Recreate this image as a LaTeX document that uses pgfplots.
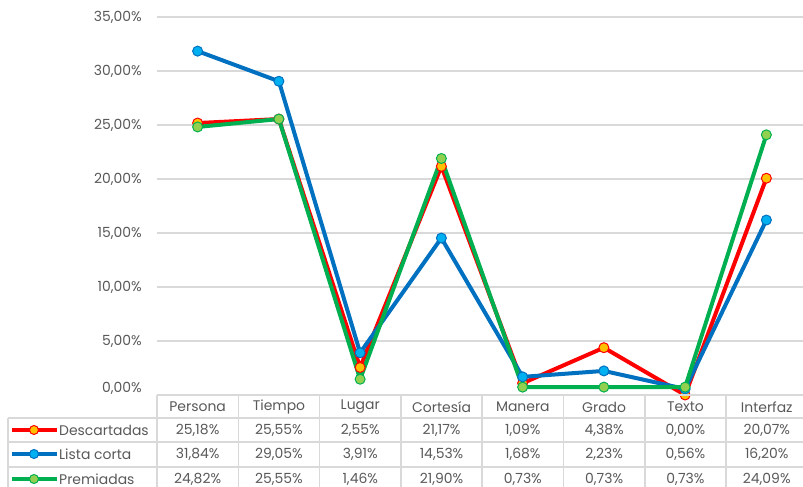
\documentclass[border=0pt]{standalone}
\usepackage{pgfplots}
\pgfplotsset{compat=1.18}
\usepackage{fontspec}
\setmainfont{Poppins}
\definecolor{txt}{HTML}{595959}
\definecolor{gridc}{HTML}{D9D9D9}
\definecolor{rline}{HTML}{FF0000}
\definecolor{rfill}{HTML}{FFC000}
\definecolor{bline}{HTML}{0070C0}
\definecolor{bfill}{HTML}{00B0F0}
\definecolor{gline}{HTML}{00B050}
\definecolor{gfill}{HTML}{92D050}
\newcommand{\tfont}{\fontsize{14}{16}\selectfont}
\begin{document}
\begin{tikzpicture}
\useasboundingbox (0,0) rectangle (803bp,487bp);
\clip (0,0) rectangle (803bp,487bp);
\begin{axis}[
  at={(157bp,92bp)}, anchor=south west,
  scale only axis, width=650bp, height=378bp,
  xmin=-0.5, xmax=7.5, ymin=0, ymax=35,
  axis line style={draw=none},
  xtick=\empty,
  ytick={5,10,15,20,25,30,35},
  extra y ticks={0},
  extra y tick style={yticklabel style={yshift=7bp}},
  ymajorgrids, grid style={gridc, line width=1.2bp},
  major tick length=0pt,
  /pgf/number format/assume math mode=true,
  yticklabel={\pgfmathprintnumber[fixed,fixed zerofill,precision=2,use comma]{\tick}\%},
  yticklabel style={font=\tfont, text=txt, inner sep=0pt, anchor=east, xshift=-15bp},
  clip=false,
  every axis plot/.append style={line width=4bp, line join=round, mark=*, mark size=5bp},
]
\addplot[rline, mark options={fill=rfill, draw=rline, line width=1bp}]
  coordinates {(0,25.18)(1,25.55)(2,2.55)(3,21.17)(4,1.09)(5,4.38)(6,0.00)(7,20.07)};
\addplot[bline, mark options={fill=bfill, draw=bline, line width=1bp}]
  coordinates {(0,31.84)(1,29.05)(2,3.91)(3,14.53)(4,1.68)(5,2.23)(6,0.56)(7,16.20)};
\addplot[gline, mark options={fill=gfill, draw=gline, line width=1bp}]
  coordinates {(0,24.82)(1,25.55)(2,1.46)(3,21.90)(4,0.73)(5,0.73)(6,0.73)(7,24.09)};
\end{axis}
\begin{scope}[x=1bp, y=-1bp, yshift=487bp]
  % table grid
  \draw[gridc, line width=1.5bp] (157,395) -- (810,395);
  \foreach \yy in {418,442,467,491} \draw[gridc, line width=1.5bp] (8,\yy) -- (810,\yy);
  \draw[gridc, line width=1.5bp] (8,418) -- (8,495);
  \foreach \k in {0,...,8} \draw[gridc, line width=1.5bp] ({157+81.3*\k},395) -- ({157+81.3*\k},495);
  % header
  \foreach \n [count=\i from 0] in {Persona,Tiempo,Lugar,Cortesía,Manera,Grado,Texto,Interfaz}
    \node[font=\tfont, text=txt] at ({197.65+81.3*\i},407) {\n};
  % rows
  \foreach \v [count=\i from 0] in {{25,18\%},{25,55\%},{2,55\%},{21,17\%},{1,09\%},{4,38\%},{0,00\%},{20,07\%}}
    \node[font=\tfont, text=txt] at ({197.65+81.3*\i},430) {\v};
  \foreach \v [count=\i from 0] in {{31,84\%},{29,05\%},{3,91\%},{14,53\%},{1,68\%},{2,23\%},{0,56\%},{16,20\%}}
    \node[font=\tfont, text=txt] at ({197.65+81.3*\i},454) {\v};
  \foreach \v [count=\i from 0] in {{24,82\%},{25,55\%},{1,46\%},{21,90\%},{0,73\%},{0,73\%},{0,73\%},{24,09\%}}
    \node[font=\tfont, text=txt] at ({197.65+81.3*\i},479) {\v};
  % legend keys
  \draw[rline, line width=4bp] (12,430) -- (57,430);
  \draw[rline, fill=rfill, line width=1bp] (34,430) circle (4.5);
  \node[font=\tfont, text=txt, anchor=west, inner sep=0pt] at (59,430) {Descartadas};
  \draw[bline, line width=4bp] (12,454) -- (57,454);
  \draw[bline, fill=bfill, line width=1bp] (34,454) circle (4.5);
  \node[font=\tfont, text=txt, anchor=west, inner sep=0pt] at (59,454) {Lista corta};
  \draw[gline, line width=4bp] (12,479) -- (57,479);
  \draw[gline, fill=gfill, line width=1bp] (34,479) circle (4.5);
  \node[font=\tfont, text=txt, anchor=west, inner sep=0pt] at (59,479) {Premiadas};
\end{scope}
\end{tikzpicture}
\end{document}
